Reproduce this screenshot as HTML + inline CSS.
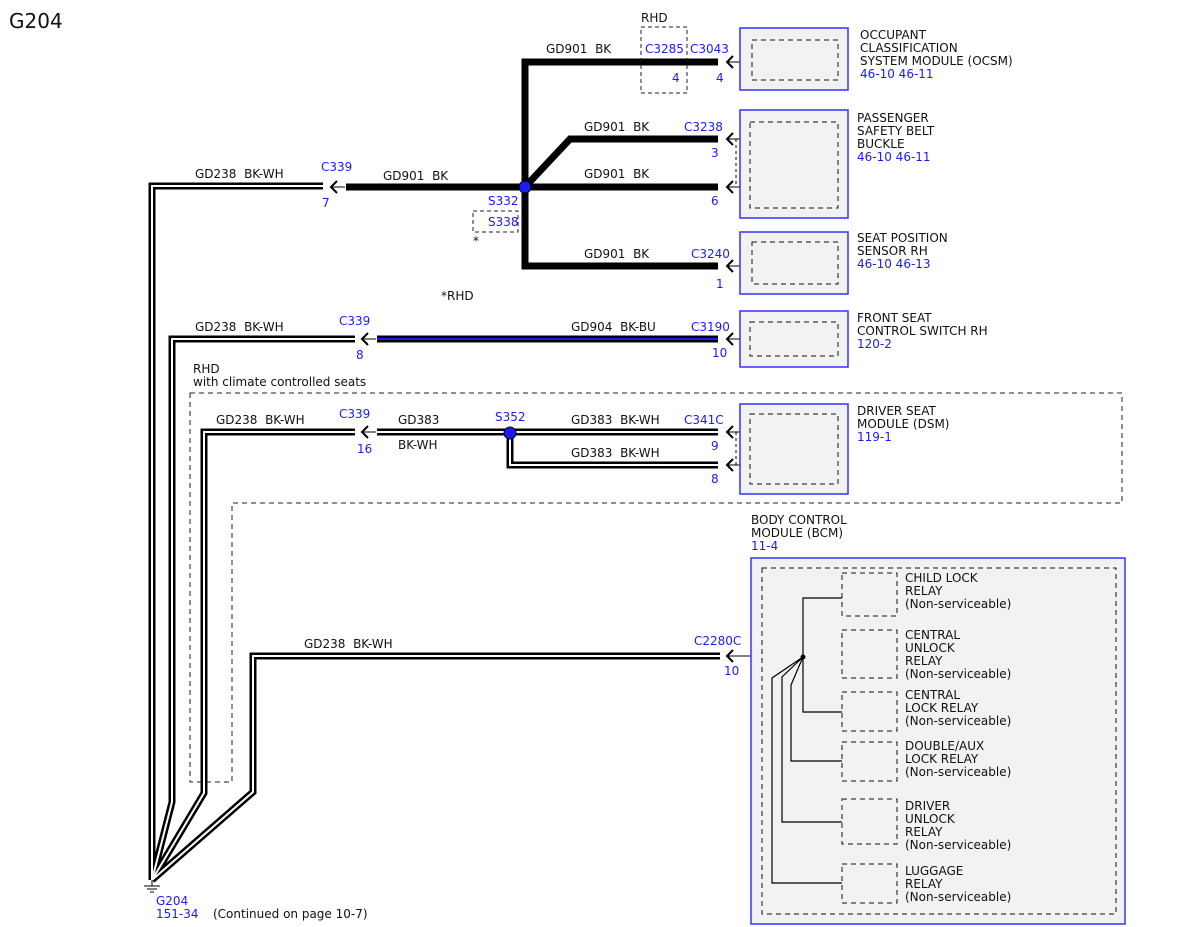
<!DOCTYPE html>
<html><head><meta charset="utf-8"><style>
html,body{margin:0;padding:0;background:#fff;}
svg{display:block;}
text{font-family:"DejaVu Sans","Liberation Sans",sans-serif;font-size:12px;fill:#111;white-space:pre;}
.b{fill:#1a1aff;}
</style></head><body>
<svg width="1200" height="927" viewBox="0 0 1200 927" xmlns="http://www.w3.org/2000/svg" xml:space="preserve">
<defs>
<g id="chev"><path d="M6,-6 L0,0 L6,6" fill="none" stroke="#000" stroke-width="2"/><line x1="0" y1="0" x2="14" y2="0" stroke="#000" stroke-width="1"/></g>
</defs>
<text x="9" y="28" style="font-size:20px">G204</text>

<path d="M190,393 H1122 V503 H232 V782 H190 Z" fill="none" stroke="#222" stroke-width="1" stroke-dasharray="5,4"/>
<text x="193" y="373">RHD</text>
<text x="193" y="386">with climate controlled seats</text>

<g fill="none" stroke-linejoin="miter">
<g stroke="#000" stroke-width="7">
<path d="M323,186 H152 V880"/>
<path d="M355,339 H172 V802 L152,880"/>
<path d="M355,432 H204 V793 L152,880"/>
<path d="M720,656 H253 V792 L152,880"/>
<path d="M377,432 H718"/>
<path d="M510,432 V465 H718"/>
</g>
<g stroke="#fff" stroke-width="2">
<path d="M323,186 H152 V880"/>
<path d="M355,339 H172 V802 L152,880"/>
<path d="M355,432 H204 V793 L152,880"/>
<path d="M720,656 H253 V792 L152,880"/>
<path d="M377,432 H718"/>
<path d="M510,434 V465 H718"/>
</g>
<path d="M377,339 H718" stroke="#000" stroke-width="7"/>
<path d="M377,339 H718" stroke="#1a1aff" stroke-width="2"/>
<g stroke="#000" stroke-width="7">
<path d="M346,187 H718"/>
<path d="M718,62 H525 V266 H718"/>
<path d="M525,187 L570,139 H718"/>
</g>
</g>
<line x1="152" y1="880" x2="152" y2="886" stroke="#000"/>
<line x1="144" y1="886" x2="160" y2="886" stroke="#000"/>
<line x1="147" y1="889" x2="157" y2="889" stroke="#000"/>
<line x1="150" y1="892" x2="154" y2="892" stroke="#000"/>
<text x="156" y="905" class="b">G204</text>
<text x="156" y="918" class="b">151-34</text>
<text x="213" y="918">(Continued on page 10-7)</text>

<circle cx="525" cy="187" r="6" fill="#1a1aff" stroke="#000" stroke-width="1"/>
<circle cx="510" cy="433" r="6" fill="#1a1aff" stroke="#000" stroke-width="1"/>
<rect x="473" y="211" width="45" height="21" fill="none" stroke="#222" stroke-dasharray="4,3"/>
<text x="473" y="245">*</text>
<text x="488" y="205" class="b">S332</text>
<text x="488" y="226" class="b">S338</text>
<text x="441" y="300">*RHD</text>
<text x="495" y="421" class="b">S352</text>

<use href="#chev" x="331" y="187"/>
<use href="#chev" x="362" y="339"/>
<use href="#chev" x="362" y="432"/>
<text x="321" y="171" class="b">C339</text><text x="322" y="207" class="b">7</text>
<text x="339" y="325" class="b">C339</text><text x="356" y="359" class="b">8</text>
<text x="339" y="418" class="b">C339</text><text x="357" y="453" class="b">16</text>

<text x="195" y="178">GD238  BK-WH</text>
<text x="383" y="180">GD901  BK</text>
<text x="546" y="53">GD901  BK</text>
<text x="584" y="131">GD901  BK</text>
<text x="584" y="178">GD901  BK</text>
<text x="584" y="258">GD901  BK</text>
<text x="195" y="331">GD238  BK-WH</text>
<text x="571" y="331">GD904  BK-BU</text>
<text x="216" y="424">GD238  BK-WH</text>
<text x="398" y="424">GD383</text>
<text x="398" y="449">BK-WH</text>
<text x="571" y="424">GD383  BK-WH</text>
<text x="571" y="457">GD383  BK-WH</text>
<text x="304" y="648">GD238  BK-WH</text>

<rect x="641" y="27" width="46" height="66" fill="none" stroke="#222" stroke-dasharray="4,3"/>
<text x="641" y="22">RHD</text>
<text x="645" y="53" class="b">C3285</text><text x="672" y="82" class="b">4</text>

<g>
<use href="#chev" x="727" y="62"/><line x1="727" y1="62" x2="752" y2="62" stroke="#000"/>
<use href="#chev" x="727" y="139"/><line x1="727" y1="139" x2="750" y2="139" stroke="#000"/>
<use href="#chev" x="727" y="187"/><line x1="727" y1="187" x2="750" y2="187" stroke="#000"/>
<use href="#chev" x="727" y="266"/><line x1="727" y1="266" x2="752" y2="266" stroke="#000"/>
<use href="#chev" x="727" y="339"/><line x1="727" y1="339" x2="752" y2="339" stroke="#000"/>
<use href="#chev" x="727" y="432"/><line x1="727" y1="432" x2="752" y2="432" stroke="#000"/>
<use href="#chev" x="727" y="465"/><line x1="727" y1="465" x2="752" y2="465" stroke="#000"/>
<use href="#chev" x="727" y="656"/><line x1="727" y1="656" x2="842" y2="656" stroke="#000"/>
<line x1="736" y1="139" x2="736" y2="187" stroke="#000" stroke-dasharray="3,3"/>
<line x1="736" y1="432" x2="736" y2="465" stroke="#000" stroke-dasharray="3,3"/>
</g>
<text x="690" y="53" class="b">C3043</text><text x="716" y="82" class="b">4</text>
<text x="684" y="131" class="b">C3238</text><text x="711" y="157" class="b">3</text><text x="711" y="205" class="b">6</text>
<text x="691" y="258" class="b">C3240</text><text x="716" y="288" class="b">1</text>
<text x="691" y="331" class="b">C3190</text><text x="712" y="357" class="b">10</text>
<text x="684" y="424" class="b">C341C</text><text x="711" y="450" class="b">9</text><text x="711" y="483" class="b">8</text>
<text x="694" y="645" class="b">C2280C</text><text x="724" y="675" class="b">10</text>

<g fill="#f2f2f2" stroke="#3333ff" stroke-width="1.5">
<rect x="740" y="28" width="108" height="62"/>
<rect x="740" y="110" width="108" height="108"/>
<rect x="740" y="232" width="108" height="62"/>
<rect x="740" y="311" width="108" height="56"/>
<rect x="740" y="404" width="108" height="90"/>
<rect x="751" y="558" width="374" height="366"/>
</g>
<g fill="none" stroke="#111" stroke-width="1" stroke-dasharray="5,4">
<rect x="752" y="40" width="86" height="40"/>
<rect x="750" y="122" width="88" height="86"/>
<rect x="752" y="242" width="86" height="42"/>
<rect x="750" y="322" width="88" height="34"/>
<rect x="750" y="414" width="88" height="70"/>
<rect x="762" y="568" width="354" height="346"/>
<rect x="842" y="573" width="55" height="43"/>
<rect x="842" y="630" width="55" height="48"/>
<rect x="842" y="692" width="55" height="39"/>
<rect x="842" y="742" width="55" height="39"/>
<rect x="842" y="799" width="55" height="45"/>
<rect x="842" y="864" width="55" height="39"/>
</g>
<g fill="none" stroke="#000" stroke-width="1.2">
<path d="M842,598 H803 V712 H842"/>
<path d="M803,657 L791,685 V761 H842"/>
<path d="M803,657 L782,677 V822 H842"/>
<path d="M803,657 L772,678 V883 H842"/>
</g>
<circle cx="803" cy="657" r="2.5" fill="#000"/>

<text x="860" y="39">OCCUPANT</text><text x="860" y="52">CLASSIFICATION</text><text x="860" y="65">SYSTEM MODULE (OCSM)</text><text x="860" y="78" class="b">46-10 46-11</text>
<text x="857" y="122">PASSENGER</text><text x="857" y="135">SAFETY BELT</text><text x="857" y="148">BUCKLE</text><text x="857" y="161" class="b">46-10 46-11</text>
<text x="857" y="242">SEAT POSITION</text><text x="857" y="255">SENSOR RH</text><text x="857" y="268" class="b">46-10 46-13</text>
<text x="857" y="322">FRONT SEAT</text><text x="857" y="335">CONTROL SWITCH RH</text><text x="857" y="348" class="b">120-2</text>
<text x="857" y="415">DRIVER SEAT</text><text x="857" y="428">MODULE (DSM)</text><text x="857" y="441" class="b">119-1</text>
<text x="751" y="524">BODY CONTROL</text><text x="751" y="537">MODULE (BCM)</text><text x="751" y="550" class="b">11-4</text>
<text x="905" y="582">CHILD LOCK</text><text x="905" y="595">RELAY</text><text x="905" y="608">(Non-serviceable)</text>
<text x="905" y="639">CENTRAL</text><text x="905" y="652">UNLOCK</text><text x="905" y="665">RELAY</text><text x="905" y="678">(Non-serviceable)</text>
<text x="905" y="699">CENTRAL</text><text x="905" y="712">LOCK RELAY</text><text x="905" y="725">(Non-serviceable)</text>
<text x="905" y="750">DOUBLE/AUX</text><text x="905" y="763">LOCK RELAY</text><text x="905" y="776">(Non-serviceable)</text>
<text x="905" y="810">DRIVER</text><text x="905" y="823">UNLOCK</text><text x="905" y="836">RELAY</text><text x="905" y="849">(Non-serviceable)</text>
<text x="905" y="875">LUGGAGE</text><text x="905" y="888">RELAY</text><text x="905" y="901">(Non-serviceable)</text>
</svg>
</body></html>
